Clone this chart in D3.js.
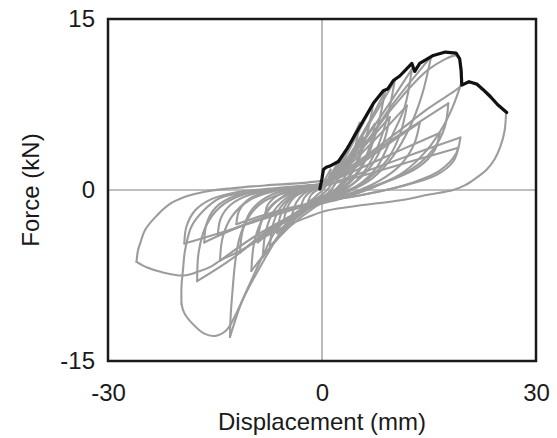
<!DOCTYPE html>
<html><head><meta charset="utf-8">
<script src="https://cdn.jsdelivr.net/npm/d3@7"></script>
<style>
html,body{margin:0;padding:0;background:#fff;}
svg{display:block;font-family:"Liberation Sans",Arial,sans-serif;}
</style></head>
<body><svg id="c" width="557" height="438"></svg>
<script>
// axis settings (values)
const xTicks = [-30, 0, 30];
const yTicks = [-15, 0, 15];
const xLabel = "Displacement (mm)";
const yLabel = "Force (kN)";

// monotonic envelope (black) [displacement mm, force kN]
const envelope = [[-0.3,0.1],[0,1.0],[0.2,1.8],[0.6,2.0],[1.1,2.1],[2.3,2.5],[3.5,3.6],[4.6,4.8],[5.8,6.1],[7.2,7.6],[8.6,8.7],[9.2,8.85],[10.0,9.6],[10.9,10.0],[12.3,10.9],[12.6,11.1],[13.0,10.4],[13.7,11.1],[15.6,11.8],[17.3,12.1],[18.8,12.0],[19.3,11.5],[19.5,10.5],[19.6,9.2],[20.6,9.5],[21.7,9.3],[22.6,8.8],[23.6,8.2],[24.6,7.5],[25.9,6.8]];

// cyclic loops (gray): each cycle = [reload branch, unload+reverse load branch, reverse unload branch]
const cycle01 = [[[-0.3,0.1],[0.4,0.9],[1.2,1.8]],[[1.2,1.8],[0.9,0.9],[0.3,0.1],[-0.6,-0.4],[-1.3,-0.8],[-2.0,-1.1]],[[-2.0,-1.1],[-1.5,-0.4],[-0.7,0],[0,0.2]]];
const cycle02 = [[[0,0.2],[1.0,1.1],[2.4,2.6]],[[2.4,2.6],[1.9,1.4],[1.1,0.3],[0,-0.4],[-1.5,-1.0],[-3.0,-1.6]],[[-3.0,-1.6],[-2.5,-0.7],[-1.5,-0.1],[0,0.3]]];
const cycle03 = [[[0,0.3],[1.4,1.4],[2.6,2.6],[3.6,3.8]],[[3.6,3.8],[3.0,2.2],[2.1,0.8],[0.8,-0.3],[-1.0,-0.9],[-2.7,-1.6],[-4.2,-2.2]],[[-4.2,-2.2],[-3.6,-1.1],[-2.5,-0.3],[-1,0.1],[0,0.4]]];
const cycle04 = [[[0,0.4],[2,1.8],[3.7,3.8],[5.3,5.9]],[[5.3,5.9],[4.6,3.6],[3.5,1.5],[2,0.1],[0,-0.7],[-2.6,-1.6],[-5.4,-2.9]],[[-5.4,-2.9],[-4.9,-1.6],[-3.8,-0.6],[-2,0],[0,0.4]]];
const cycle05 = [[[0,0.4],[2.4,2.0],[4.8,4.7],[7.2,7.6]],[[7.2,7.6],[6.3,4.9],[4.9,2.3],[3,0.5],[0.5,-0.6],[-3,-1.9],[-6.3,-3.8]],[[-6.3,-3.8],[-5.8,-2.2],[-4.6,-0.9],[-2.5,-0.1],[0,0.4]]];
const cycle06 = [[[0,0.4],[2,1.5],[4,3.0],[5.8,4.6]],[[5.8,4.6],[5.2,3.0],[4,1.4],[2.2,0.2],[0,-0.8],[-3.5,-2.3],[-7.3,-5.0]],[[-7.3,-5.0],[-6.9,-3.1],[-5.8,-1.5],[-3.5,-0.3],[0,0.4]]];
const cycle07 = [[[0,0.4],[3,2.3],[6,5.3],[8.8,8.6]],[[8.8,8.6],[7.9,5.8],[6.4,3.0],[4.3,0.9],[1.5,-0.5],[-2,-1.7],[-5,-3.3],[-8.3,-5.9]],[[-8.3,-5.9],[-7.9,-3.7],[-6.8,-1.9],[-4.5,-0.5],[-1.5,0.2],[0,0.4]]];
const cycle08 = [[[0,0.4],[2.5,1.8],[5,3.7],[7.4,5.8]],[[7.4,5.8],[6.7,3.8],[5.2,1.8],[3,0.3],[0,-0.8],[-4.5,-2.4],[-9.0,-4.6]],[[-9.0,-4.6],[-8.5,-2.8],[-7,-1.3],[-4,-0.2],[0,0.4]]];
const cycle09 = [[[0,0.4],[3.5,2.6],[7,6.2],[10.2,9.6]],[[10.2,9.6],[9.2,6.5],[7.6,3.5],[5.4,1.2],[2.5,-0.3],[-1,-1.5],[-4.5,-3.2],[-7.5,-5.2],[-9.9,-7.1]],[[-9.9,-7.1],[-9.5,-4.6],[-8.3,-2.5],[-6,-0.8],[-3,0.1],[0,0.4]]];
const cycle10 = [[[0,0.4],[3,1.9],[6.3,4.1],[9.5,6.4]],[[9.5,6.4],[8.7,4.3],[7,2.2],[4.5,0.6],[1,-0.6],[-3,-1.8],[-7.5,-3.5],[-11.5,-5.5]],[[-11.5,-5.5],[-11.1,-3.5],[-9.8,-1.7],[-7,-0.4],[-3,0.2],[0,0.4]]];
const cycle11 = [[[0,0.4],[4,2.8],[8.5,6.7],[12.6,10.6]],[[12.6,10.6],[11.6,7.3],[10,5],[7.7,2.0],[5,0.4],[2,-0.4],[-1,-1.2],[-3,-1.9],[-4.8,-2.8],[-6.3,-4.2],[-8,-6.0],[-9.7,-7.9],[-11.3,-9.9],[-12.4,-11.9],[-12.9,-12.9]],[[-12.9,-12.9],[-12.8,-11],[-12.5,-8.5],[-12.2,-6.5],[-11.6,-4.3],[-10.5,-2.6],[-8.8,-1.3],[-6.5,-0.5],[-3,0],[0,0.4]]];
const cycle12 = [[[0,0.4],[4,2.3],[8,4.8],[11.9,7.4]],[[11.9,7.4],[11,5],[9.2,2.7],[6.5,1],[3,-0.3],[-1,-1.3],[-5,-2.5],[-9.5,-4.1],[-14.3,-6.2]],[[-14.3,-6.2],[-13.9,-4.1],[-12.6,-2.3],[-10.2,-0.9],[-6,0],[-2,0.3],[0,0.4]]];
const cycle13 = [[[0,0.4],[5,3.2],[10,7.6],[15.3,11.7]],[[15.3,11.7],[14,8.3],[12.3,5.5],[10,3],[7,1.0],[3.5,-0.2],[0,-1.0],[-2.5,-1.6],[-4.5,-2.4],[-6.4,-3.5],[-8.7,-6.3],[-10.4,-8.6],[-12,-10.8],[-13.4,-12.3],[-15,-12.8],[-16.5,-12.6],[-18.2,-11.7],[-19.3,-10.8],[-19.7,-10]],[[-19.7,-10],[-19.7,-8.5],[-19.5,-7.1],[-19.2,-5.3],[-18.3,-3.2],[-16.6,-1.8],[-14.3,-0.7],[-11.5,-0.3],[-6,0.1],[0,0.5]]];
const cycle14 = [[[0,0.4],[4.5,1.9],[9,3.9],[13.7,5.9]],[[13.7,5.9],[12.9,4.0],[11,2.2],[8,0.8],[4,-0.3],[0,-1.0],[-5,-1.9],[-10,-2.9],[-15,-3.9],[-19.3,-4.7]],[[-19.3,-4.7],[-19.0,-3.2],[-17.8,-1.8],[-15.5,-0.8],[-12,-0.2],[-6,0.2],[0,0.5]]];
const cycle15 = [[[0,0.5],[5,3.3],[10,7.3],[15,10.6],[18.9,11.8],[19.3,11.5],[19.6,9.5]],[[19.6,9.5],[18.4,7.4],[17,5.6],[14.7,3.5],[11.5,1.6],[7.5,0.3],[3,-0.7],[-1,-1.4],[-5,-2.6],[-9,-4.3],[-13,-6.2],[-17.5,-8.0]],[[-17.5,-8.0],[-17.3,-5.5],[-16.3,-3.2],[-14.3,-1.5],[-11,-0.4],[-6,0.1],[0,0.5]]];
const cycle16 = [[[0,0.5],[4,1.9],[9,4.1],[13.5,5.9],[17.7,7.6]],[[17.7,7.6],[17.2,5.5],[15.5,3.5],[12.5,1.8],[8,0.5],[3,-0.5],[-2,-1.2],[-8,-2.4],[-13,-3.6],[-16.5,-4.6]],[[-16.5,-4.6],[-16.2,-3.0],[-15,-1.6],[-12.5,-0.6],[-8,0],[-3,0.3],[0,0.5]]];
const cycle17 = [[[0,0.4],[5,1.8],[11,3.5],[16.5,5.0]],[[16.5,5.0],[15.8,3.5],[13.5,2.0],[9,0.7],[4,-0.3],[0,-0.9],[-5,-1.7],[-10,-2.8],[-14.6,-4.0]],[[-14.6,-4.0],[-14.2,-2.5],[-12.8,-1.3],[-10,-0.4],[-5,0.1],[0,0.4]]];
const cycle18 = [[[0,0.5],[5,2.5],[10,4.8],[15,7.2],[18.4,8.6],[20.3,9.4],[21.7,9.2],[23.6,8.1],[25.8,6.8]],[[25.8,6.8],[25.6,5.2],[25,3.8],[24.2,2.7],[23.1,1.8],[21.5,1.0],[20,0.4],[18.4,0],[15,-0.4],[11,-0.9],[6,-1.3],[0.7,-1.8],[-2.1,-2.4],[-5.9,-3.4],[-9.7,-4.7],[-12,-5.5],[-14.3,-6.2],[-15.5,-6.7],[-17.5,-7.2],[-19.4,-7.5],[-22.5,-7.2],[-24.5,-6.8],[-26,-6.3]],[[-26,-6.3],[-25.8,-5.3],[-25.5,-4.7],[-24.8,-3.5],[-23.4,-2.4],[-21.5,-1.3],[-19.2,-0.6],[-16.4,-0.15],[-12.7,0.15],[-8,0.4],[-3,0.6],[0,0.8]]];
const cycle19 = [[[0,0.3],[6,1.6],[13,3.2],[19.4,4.6]],[[19.4,4.6],[18.8,3.2],[16.5,1.7],[12,0.5],[6,-0.4],[0,-1.0],[-6,-1.8],[-12,-3.0]],[[-12,-3.0],[-11.6,-1.8],[-10,-0.7],[-6,0.1],[0,0.4]]];
const cycle20 = [[[0,0.3],[7,1.5],[13,2.6],[19.1,3.7]],[[19.1,3.7],[18.4,2.5],[16,1.3],[11,0.3],[5,-0.5],[0,-1.0],[-4,-1.6],[-8,-2.4]],[[-8,-2.4],[-7.6,-1.3],[-6,-0.4],[-3,0.1],[0,0.3]]];
const cycles = [cycle01,cycle02,cycle03,cycle04,cycle05,cycle06,cycle07,cycle08,cycle09,cycle10,cycle11,cycle12,cycle13,cycle14,cycle15,cycle16,cycle17,cycle18,cycle19,cycle20];

const svg = d3.select("#c");
const L = 108, R = 536, T = 19, B = 361;
const x = d3.scaleLinear().domain([-30, 30]).range([L, R]);
const y = d3.scaleLinear().domain([-15, 15]).range([B, T]);

// zero reference lines
svg.append("line").attr("x1", x(0)).attr("x2", x(0)).attr("y1", T).attr("y2", B)
  .attr("stroke", "#aaaaaa").attr("stroke-width", 1.6);
svg.append("line").attr("x1", L).attr("x2", R).attr("y1", y(0)).attr("y2", y(0))
  .attr("stroke", "#aaaaaa").attr("stroke-width", 1.6);

const line = d3.line().x(d => x(d[0])).y(d => y(d[1])).curve(d3.curveCatmullRom.alpha(0.5));

const g = svg.append("g");
cycles.forEach(c => c.forEach(branch => {
  g.append("path").attr("d", line(branch)).attr("fill", "none")
    .attr("stroke", "#9c9c9c").attr("stroke-width", 2.1)
    .attr("stroke-linejoin", "round").attr("stroke-linecap", "round");
}));

svg.append("path").attr("d", d3.line().x(d => x(d[0])).y(d => y(d[1])).curve(d3.curveLinear)(envelope))
  .attr("fill", "none").attr("stroke", "#111").attr("stroke-width", 3.2)
  .attr("stroke-linejoin", "round").attr("stroke-linecap", "round");

// frame
svg.append("rect").attr("x", L).attr("y", T).attr("width", R - L).attr("height", B - T)
  .attr("fill", "none").attr("stroke", "#1a1a1a").attr("stroke-width", 2.5);

// axes (labels only)
const fmt = d => String(d);
const ax = svg.append("g").attr("transform", `translate(0,${B})`)
  .call(d3.axisBottom(x).tickValues(xTicks).tickSize(0).tickPadding(23).tickFormat(fmt));
const ay = svg.append("g").attr("transform", `translate(${L},0)`)
  .call(d3.axisLeft(y).tickValues(yTicks).tickSize(0).tickPadding(13).tickFormat(fmt));
[ax, ay].forEach(a => {
  a.select(".domain").remove();
  a.selectAll("text").attr("font-size", 24).attr("fill", "#1a1a1a")
    .attr("font-family", "'Liberation Sans', Arial, sans-serif");
});

svg.append("text").attr("x", x(0)).attr("y", 430).attr("text-anchor", "middle")
  .attr("font-size", 24).attr("fill", "#1a1a1a").text(xLabel);
svg.append("text").attr("transform", `translate(39,${y(0)}) rotate(-90)`).attr("text-anchor", "middle")
  .attr("font-size", 24).attr("fill", "#1a1a1a").text(yLabel);
</script></body></html>
